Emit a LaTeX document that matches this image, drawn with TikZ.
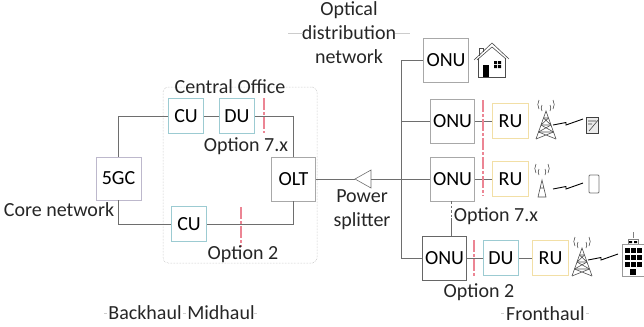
\documentclass[tikz,border=0pt]{standalone}
\usepackage{fontspec}
\setmainfont{Carlito}
\usepackage{tikz}

\definecolor{boxgray}{HTML}{A8A8A8}
\definecolor{boxteal}{HTML}{9CCBD2}
\definecolor{boxyellow}{HTML}{F2DFA6}
\definecolor{boxlilac}{HTML}{BDB8CC}
\definecolor{linkgray}{HTML}{6E6E6E}
\definecolor{cutred}{HTML}{EC8594}

\tikzset{
    box/.style={shape=rectangle, draw=#1, line width=0.8pt, minimum width=35.5bp, minimum height=35.5bp, inner sep=0pt, fill=white},
    bigbox/.style={box=#1, minimum width=44.5bp, minimum height=44bp},
    label/.style={inner sep=0pt, align=center, text=black!85},
    link/.style={draw=linkgray, line width=0.95pt},
    cut/.style={draw=cutred, line width=1.1pt, dash pattern=on 12bp off 2bp on 3bp off 2bp},
    faint/.style={draw=black!20, line width=0.6pt},
    icon/.style={draw=black!70, line width=0.6pt},
    pics/mast/.style={code={
        \draw [icon] (-10,17) -- (0,-11) -- (10,17) (-7.5,10) -- (7.5,10) (-5,3) -- (5,3) (-2.5,-4) -- (2.5,-4);
        \draw [icon] (-7.5,10) -- (5,3) (7.5,10) -- (-5,3) (-10,17) -- (7.5,10) (10,17) -- (-7.5,10) (-5,3) -- (2.5,-4) (5,3) -- (-2.5,-4);
        \draw [icon] (-4,-11) arc (150:210:6) (-7,-13) arc (150:210:9) (4,-11) arc (30:-30:6) (7,-13) arc (30:-30:9);
    }},
    pics/spark/.style={code={
        \draw [draw=black, line width=0.9pt] (0,0) -- (13,-2.5) -- (13,0) -- (30,-6);
    }},
}

\begin{document}
\begin{tikzpicture}[x=1bp, y=-1bp, font=\fontsize{20bp}{24bp}\selectfont]
    \useasboundingbox (0,0) rectangle (644,326);

    % central office
    \node[draw=black!30, line width=0.5pt, densely dotted, rounded corners=5bp, minimum width=154bp, minimum height=176bp, inner sep=0pt] (office) at (240,175) {};

    % boxes
    \node[box=boxlilac, minimum width=45bp, minimum height=43bp] (gc) at (118.5,178.5) {5GC};
    \node[box=boxteal] (cuA) at (186,116) {CU};
    \node[box=boxteal] (duA) at (237,116) {DU};
    \node[box=boxteal] (cuB) at (189,224) {CU};
    \node[bigbox=boxgray] (olt) at (293.5,179) {OLT};

    \node[bigbox=boxgray] (onuA) at (446,60) {ONU};
    \node[bigbox=boxgray] (onuB) at (452.5,121) {ONU};
    \node[bigbox=boxgray] (onuC) at (452.5,179) {ONU};
    \node[bigbox=black!60] (onuD) at (444.5,258) {ONU};

    \node[box=boxyellow] (ruA) at (510.5,121) {RU};
    \node[box=boxyellow] (ruB) at (510.5,179) {RU};
    \node[box=boxteal] (duB) at (501,258) {DU};
    \node[box=boxyellow] (ruC) at (550.5,258) {RU};

    % power splitter
    \coordinate (tip) at (355,179);
    \coordinate (backA) at (371,170);
    \coordinate (backB) at (371,188);
    \coordinate (backM) at (371,179);
    \coordinate (busA) at (401,60);
    \coordinate (busB) at (401,121);
    \coordinate (busC) at (401,179);
    \coordinate (busD) at (401,258);
    \coordinate (tapC) at (451,201);
    \coordinate (tapM) at (451,218);
    \coordinate (tapD) at (451,236);

    % links
    \draw [link] (gc.north) |- (cuA.west);
    \draw [link] (gc.south) |- (cuB.west);
    \draw [link] (duA.east) -| (olt.north);
    \draw [link] (cuB.east) -| (olt.south);
    \path [link] (cuA) edge (duA);
    \path [link] (olt) edge (tip);
    \draw [draw=linkgray, line width=0.6pt] (tip) -- (backA) -- (backB) -- cycle;
    \path [link] (backM) edge (onuC);
    \draw [link] (onuA.west) -- (busA) -- (busD) -- (onuD.west);
    \path [link] (busB) edge (onuB);
    \path [link] (onuB) edge (ruA);
    \path [link] (onuC) edge (ruB);
    \path [link] (onuD) edge (duB);
    \path [link] (duB) edge (ruC);
    \draw [link, dash pattern=on 2.5bp off 2bp] (tapC) -- (tapM);
    \draw [link] (tapM) -- (tapD);

    % split lines
    \draw [cut] (264,98) -- (264,133);
    \draw [cut] (241,207) -- (241,247);
    \draw [cut] (483,100) -- (483,196);
    \draw [cut] (474,240) -- (474,278);

    % labels
    \node[label] (officelabel) at (230,87) {Central Office};
    \node[label] (splitA) at (246,146) {Option 7.x};
    \node[label] (splitB) at (243,254) {Option 2};
    \node[label] (core) at (59,210) {Core network};
    \node[label] (odn) at (349,33) {Optical\\distribution\\network};
    \node[label] (power) at (362,210) {Power\\splitter};
    \node[label] (splitC) at (496,216) {Option 7.x};
    \node[label] (splitD) at (479,292) {Option 2};
    \node[label] (back) at (145,313) {Backhaul};
    \node[label] (mid) at (221,313) {Midhaul};
    \node[label] (front) at (545.5,314) {Fronthaul};

    % faint marks
    \draw [faint] (288,33) -- (303,33);
    \draw [faint] (395,33) -- (410,33);
    \foreach \x in {104,183,254,501,586}
        \draw [faint] (\x,313.5) -- ++(3,0);

    % house
    \draw [icon, fill=white] (478,58) -- (478,77) -- (505,77) -- (505,58);
    \draw [icon] (474,60) -- (492,43) -- (509,59) (477,60) -- (492,47) -- (506,59);
    \draw [icon] (479,56) -- (479,48) -- (483,48) -- (483,52);
    \fill [black] (483,65) rectangle (489,77);
    \fill [black] (494,61) rectangle (497,64) (498,61) rectangle (501,64) (494,65) rectangle (497,68) (498,65) rectangle (501,68);

    % towers
    \pic at (546,122) {mast};
    \pic at (582,259) {mast};
    \draw [icon] (538,197) -- (542,180) -- (546,197) -- cycle (540,188) -- (544,188);
    \draw [icon] (539,175) arc (150:210:6) (536,173) arc (150:210:9) (545,175) arc (30:-30:6) (548,173) arc (30:-30:9);

    % wireless links
    \pic at (553,125) {spark};
    \pic at (553,189) {spark};
    \pic at (588,260) {spark};

    % handsets
    \draw [black!75, line width=0.9pt, fill=black!8] (586,117) rectangle (598,133);
    \draw [black!75, line width=0.6pt] (589,131) -- (599,119) (588,121) -- (596,121) (588,124) -- (592,124);
    \draw [black!55, line width=0.8pt, rounded corners=1bp] (589,175) rectangle (599,193);

    % building
    \draw [black!50, line width=0.5pt] (633,232) -- (633,238);
    \draw [black!50, line width=0.6pt] (628,244) -- (628,239) -- (638,239) -- (638,244);
    \draw [black!40, line width=0.6pt] (622,276) -- (622,244) -- (644,244) -- (644,276) -- cycle;
    \foreach \y in {248,255,262}
        \foreach \x in {625,631,637}
            \fill [black] (\x,\y) rectangle ++(4.5,4.5);
    \fill [black] (630,269) rectangle (636,275);
    \fill [black] (629,241) rectangle (632,243) (634,241) rectangle (637,243);
\end{tikzpicture}
\end{document}
